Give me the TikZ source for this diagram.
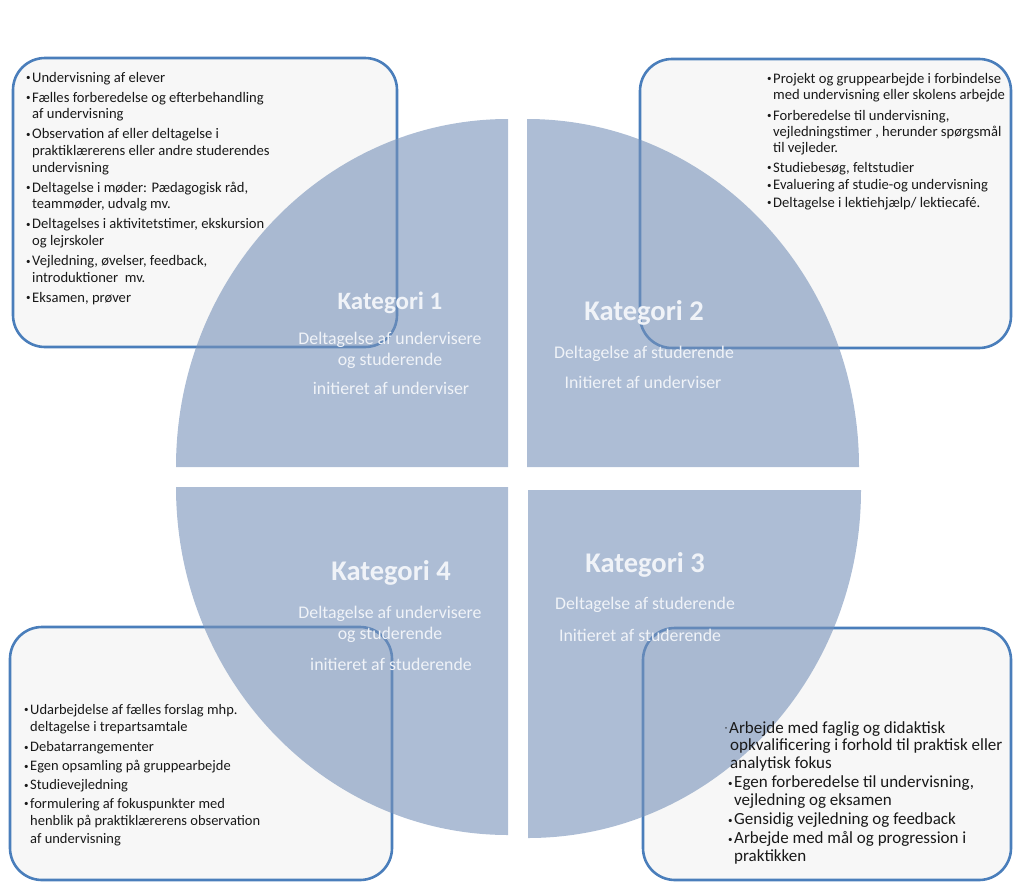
\documentclass[tikz,border=0pt]{standalone}
\usepackage{fontspec}
\setmainfont{Carlito}
\usetikzlibrary{positioning}
\definecolor{quarterblue}{RGB}{118,145,185}
\definecolor{framebl}{RGB}{74,126,187}
\definecolor{framefill}{RGB}{247,247,247}
\definecolor{labelwhite}{RGB}{240,243,248}
\definecolor{listgray}{RGB}{25,25,25}
\newcommand{\dotitem}{\makebox[6pt][l]{\raisebox{1.3pt}{\fontsize{9}{9}\selectfont\textbullet}}}
\tikzset{
  listbox/.style={draw=framebl, line width=2.6pt, fill=framefill, rounded corners=32pt},
  quarter/.style={fill=quarterblue, fill opacity=0.6},
  kat/.style={font=\fontsize{28.5}{32}\selectfont\bfseries, text=labelwhite, inner sep=0pt},
  katsub/.style={font=\fontsize{17.8}{20}\selectfont, text=labelwhite, inner sep=0pt},
  listtext/.style={text=listgray, inner sep=0pt, anchor=base west, align=left}
}

\begin{document}
\begin{tikzpicture}[x=1pt,y=-1pt]
\useasboundingbox (0,0) rectangle (1014,881);
% the four list boxes
\draw [listbox] (13,58) rectangle (397,347);
\draw [listbox] (640,59) rectangle (1011,348);
\draw [listbox] (10,627) rectangle (392,880);
\draw [listbox] (643,628) rectangle (1011,880);
% the four quarters
\fill [quarter] (508,467) -- ++(-332,0) arc[start angle=180, end angle=270, x radius=332, y radius=348] -- cycle;
\fill [quarter] (527,467) -- ++(0,-348) arc[start angle=270, end angle=360, x radius=332, y radius=348] -- cycle;
\fill [quarter] (528,490) -- ++(333,0) arc[start angle=0, end angle=90, x radius=333, y radius=348] -- cycle;
\fill [quarter] (508,487) -- ++(0,348) arc[start angle=90, end angle=180, x radius=332, y radius=348] -- cycle;
% lists
\node [listtext, font=\fontsize{14.6}{16.6}\selectfont] (list1) at (26,82) {%
\begin{tabular}[t]{@{}l@{}l@{}}
\dotitem & Undervisning af elever\\[3.5pt]
\dotitem & Fælles forberedelse og efterbehandling\\
 & af undervisning\\[3.5pt]
\dotitem & Observation af eller deltagelse i\\
 & praktiklærerens eller andre studerendes\\
 & undervisning\\[3.5pt]
\dotitem & Deltagelse i møder: Pædagogisk råd,\\
 & teammøder, udvalg mv.\\[3.5pt]
\dotitem & Deltagelses i aktivitetstimer, ekskursion\\
 & og lejrskoler\\[3.5pt]
\dotitem & Vejledning, øvelser, feedback,\\
 & introduktioner~ mv.\\[3.5pt]
\dotitem & Eksamen, prøver
\end{tabular}};
\node [listtext, font=\fontsize{14.6}{16}\selectfont] (list2) at (767,83) {%
\begin{tabular}[t]{@{}l@{}l@{}}
\dotitem & Projekt og gruppearbejde i forbindelse\\
 & med undervisning eller skolens arbejde\\[5pt]
\dotitem & Forberedelse til undervisning,\\
 & vejledningstimer , herunder spørgsmål\\
 & til vejleder.\\[4pt]
\dotitem & Studiebesøg, feltstudier\\[1.5pt]
\dotitem & Evaluering af studie-og undervisning\\[1.5pt]
\dotitem & Deltagelse i lektiehjælp/ lektiecafé.
\end{tabular}};
\node [listtext, font=\fontsize{14.5}{17.5}\selectfont] (list4) at (24,714) {%
\begin{tabular}[t]{@{}l@{}l@{}}
\dotitem & Udarbejdelse af fælles forslag mhp.\\
 & deltagelse i trepartsamtale\\[2.5pt]
\dotitem & Debatarrangementer\\[1.5pt]
\dotitem & Egen opsamling på gruppearbejde\\[1.5pt]
\dotitem & Studievejledning\\[1pt]
\dotitem & formulering af fokuspunkter med\\
 & henblik på praktiklærerens observation\\
 & af undervisning
\end{tabular}};
\node [listtext, font=\fontsize{17}{17.6}\selectfont] (list3) at (728,733) {%
\begin{tabular}[t]{@{}l@{}l@{}}
 & \hspace*{-5pt}\llap{\raisebox{4pt}{\fontsize{4}{4}\selectfont\textbullet}\hspace{2pt}}Arbejde med faglig og didaktisk\\
 & \hspace*{-4pt}opkvalificering i forhold til praktisk eller\\
 & \hspace*{-4pt}analytisk fokus\\[2pt]
\dotitem & Egen forberedelse til undervisning,\\
 & vejledning og eksamen\\[1.5pt]
\dotitem & Gensidig vejledning og feedback\\[1.5pt]
\dotitem & Arbejde med mål og progression i\\
 & praktikken
\end{tabular}};
% category labels
\node [kat, font=\fontsize{25}{30}\selectfont\bfseries] (kat1) at (390,303) {Kategori 1};
\node [katsub] (kat1a) at (390,340) {Deltagelse af undervisere};
\node [katsub] (kat1b) at (390,361) {og studerende};
\node [katsub] (kat1c) at (391,388) {initieret af underviser};
\node [kat] (kat2) at (644,313) {Kategori 2};
\node [katsub] (kat2a) at (644,354) {Deltagelse af studerende};
\node [katsub] (kat2b) at (643,382) {Initieret af underviser};
\node [kat] (kat3) at (645,565) {Kategori 3};
\node [katsub] (kat3a) at (645,605) {Deltagelse af studerende};
\node [katsub] (kat3b) at (640,635) {Initieret af studerende};
\node [kat] (kat4) at (391,573) {Kategori 4};
\node [katsub] (kat4a) at (390,614) {Deltagelse af undervisere};
\node [katsub] (kat4b) at (390,635) {og studerende};
\node [katsub] (kat4c) at (391,664) {initieret af studerende};
\end{tikzpicture}
\end{document}
